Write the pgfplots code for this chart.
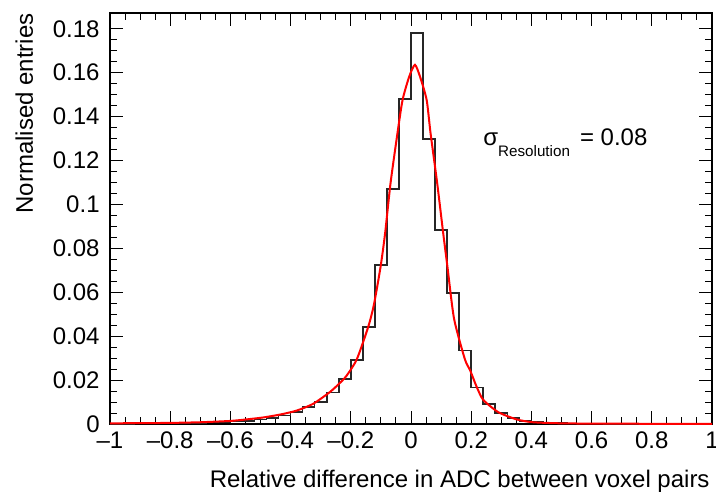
\documentclass[border=0pt]{standalone}
\usepackage{fontspec}
\setmainfont{Liberation Sans}
\usepackage{pgfplots}
\pgfplotsset{compat=1.18}
\newcommand{\lf}{\fontsize{12}{14}\selectfont}
\begin{document}
\begin{tikzpicture}
\useasboundingbox (-55pt,-34.5pt) rectangle (303pt,212pt);
\begin{axis}[
  at={(0pt,0pt)}, anchor=south west,
  scale only axis, width=301pt, height=205.5pt,
  xmin=-1, xmax=1, ymin=0, ymax=0.1872,
  xtick={-1,-0.8,-0.6,-0.4,-0.2,0,0.2,0.4,0.6,0.8,1},
  xticklabels={\textendash1,\textendash0.8,\textendash0.6,\textendash0.4,\textendash0.2,0,0.2,0.4,0.6,0.8,1},
  ytick={0,0.02,0.04,0.06,0.08,0.1,0.12,0.14,0.16,0.18},
  yticklabels={0,0.02,0.04,0.06,0.08,0.1,0.12,0.14,0.16,0.18},
  scaled ticks=false,
  minor x tick num=3, minor y tick num=3,
  tick align=inside,
  major tick length=6.5pt, minor tick length=3.5pt,
  tick style={black, line width=0.5pt},
  axis line style={black, line width=0.6pt},
  xticklabel style={font=\lf, anchor=base, yshift=-12pt, inner sep=0pt},
  yticklabel style={font=\lf, anchor=east, xshift=-5pt, inner sep=0pt},
]
\addplot[const plot, black!85, line width=0.8pt] table {
x y
-1.00 0.0001
-0.96 0.0001
-0.92 0.0002
-0.88 0.0002
-0.84 0.0002
-0.80 0.0003
-0.76 0.0004
-0.72 0.0005
-0.68 0.0006
-0.64 0.0008
-0.60 0.0011
-0.56 0.0015
-0.52 0.0020
-0.48 0.0027
-0.44 0.0038
-0.40 0.0055
-0.36 0.0078
-0.32 0.0100
-0.28 0.0143
-0.24 0.0204
-0.20 0.0292
-0.16 0.0443
-0.12 0.0724
-0.08 0.1070
-0.04 0.1480
0.00 0.1780
0.04 0.1297
0.08 0.0884
0.12 0.0598
0.16 0.0335
0.20 0.0167
0.24 0.0091
0.28 0.0051
0.32 0.0027
0.36 0.0015
0.40 0.0009
0.44 0.0006
0.48 0.0004
0.52 0.0003
0.56 0.0002
0.60 0.0002
0.64 0.0001
0.68 0.0001
0.72 0.0001
0.76 0.0001
0.80 0.0001
0.84 0.0001
0.88 0.0000
0.92 0.0000
0.96 0.0000
1.00 0.0000
};
\addplot[red, line width=1pt, smooth, tension=0.4] table {
x y
-1.00 0.0003
-0.90 0.0004
-0.80 0.0005
-0.70 0.0008
-0.60 0.0014
-0.546 0.0021
-0.49 0.0030
-0.435 0.0043
-0.38 0.0061
-0.325 0.0092
-0.27 0.0145
-0.24 0.0182
-0.214 0.0220
-0.18 0.0295
-0.142 0.0443
-0.123 0.0545
-0.101 0.0717
-0.086 0.0869
-0.068 0.1097
-0.045 0.1324
-0.028 0.1476
-0.006 0.1582
0.013 0.1636
0.030 0.1582
0.052 0.1476
0.065 0.1324
0.087 0.1097
0.107 0.0869
0.121 0.0717
0.143 0.0480
0.179 0.0295
0.196 0.0246
0.218 0.0170
0.240 0.0110
0.290 0.0054
0.351 0.0021
0.405 0.0008
0.50 0.0003
0.60 0.0002
0.80 0.0001
1.00 0.0001
};
\node[anchor=base west, font=\lf, inner sep=0pt] at (axis cs:0.239,0.127) {σ\raisebox{-5.5pt}{\fontsize{7.6}{9}\selectfont Resolution}\hspace{1.7pt} = 0.08};
\end{axis}
\node[rotate=90, anchor=base east, font=\lf, inner sep=0pt] at (-38.5pt,205.5pt) {Normalised entries};
\node[anchor=base east, font=\lf, inner sep=0pt] at (300pt,-31.5pt) {Relative difference in ADC between voxel pairs};
\end{tikzpicture}
\end{document}
